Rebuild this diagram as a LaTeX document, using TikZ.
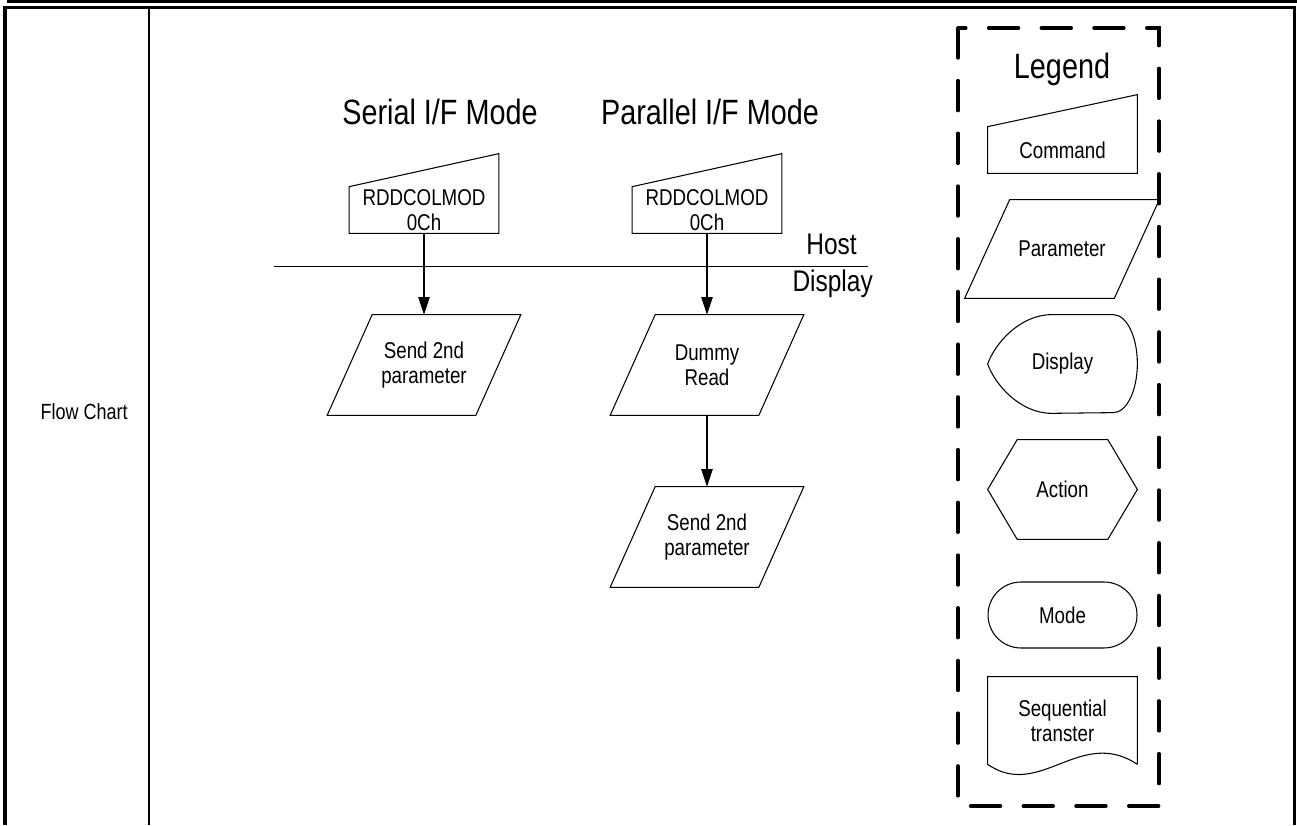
\documentclass[tikz,border=0pt]{standalone}
\usepackage{fontspec}
\setmainfont{Liberation Sans}[FakeStretch=0.82]
\usetikzlibrary{arrows.meta}
\tikzset{
    borderline/.style={line width=1.93pt},
    dividerline/.style={line width=1.3pt},
    shapeline/.style={line width=0.6pt},
    flowarrow/.style={-{Triangle[length=10pt, width=6.5pt]}, line width=0.6pt},
    legendbox/.style={line width=2pt, line cap=round, dash pattern=on 17pt off 13pt},
    heading/.style={font=\fontsize{20}{24}\selectfont},
    sidenote/.style={font=\fontsize{17}{20}\selectfont},
    shapetext/.style={font=\fontsize{13}{14.2}\selectfont, align=center, inner sep=0pt},
    cmdnode/.style={shapetext, minimum width=2.98cm, minimum height=0.92cm},
    paranode/.style={shapetext, minimum width=2.96cm, minimum height=2cm},
    legnode/.style={shapetext, minimum width=2.98cm, minimum height=1.96cm}
}

\begin{document}
\begin{tikzpicture}[x=0.02cm, y=0.02cm]
    \useasboundingbox (0,0) rectangle (1297,825);
    % table frame
    \draw[borderline] (7,823.3) -- (1297,823.3);
    \draw[line width=1.5pt] (3.3,817.2) -- (1296,817.2);
    \draw[borderline] (5,818.5) -- (5,0);
    \draw[borderline] (1294.2,818.5) -- (1294.2,0);
    \draw[dividerline] (149,817) -- (149,0);
    \node[shapetext, font=\fontsize{12.5}{15}\selectfont, anchor=east] (rowname) at (128,413) {Flow Chart};

    % host / display
    \coordinate (splitL) at (274,558.3);
    \coordinate (splitR) at (868,558.3);
    \draw[shapeline] (splitL) -- (splitR);
    \node[sidenote, anchor=base east] (host) at (863,570) {Host};
    \node[sidenote, anchor=base east] (disp) at (879,533.3) {Display};

    % flow
    \node[heading, anchor=base] (serial) at (440,700) {Serial I/F Mode};
    \node[heading, anchor=base] (parallel) at (710,700) {Parallel I/F Mode};
    \node[cmdnode] (cmdS) at (424,615) {RDDCOLMOD\\0Ch};
    \node[cmdnode] (cmdP) at (707,615) {RDDCOLMOD\\0Ch};
    \node[paranode] (sendS) at (424,460) {Send 2nd\\parameter};
    \node[paranode] (dummyP) at (707,460) {Dummy\\Read};
    \node[paranode] (sendP) at (707,288) {Send 2nd\\parameter};

    % legend
    \draw[legendbox] (958,797) rectangle (1159,19);
    \node[heading, anchor=base] (legend) at (1062,746.7) {Legend};
    \node[cmdnode] (cmdLeg) at (1062.5,675) {Command};
    \node[legnode] (paraLeg) at (1062,576) {Parameter};
    \node[legnode] (dispLeg) at (1062.5,461) {Display};
    \node[legnode, minimum height=1.98cm] (actLeg) at (1062.5,335.5) {Action};
    \node[shapetext, draw, shapeline, rounded corners=0.66cm, minimum width=2.98cm,
        minimum height=1.32cm] (modeLeg) at (1062.5,210) {Mode};
    \node[shapetext, minimum width=2.98cm, minimum height=1.74cm] (seqLeg) at (1062.5,104.5) {Sequential\\transter};

    % outlines
    \foreach \n/\r in {cmdS/0.66cm,cmdP/0.66cm,cmdLeg/0.64cm}
        \draw[shapeline] (\n.north west) -- (\n.south west) -- (\n.south east)
            -- ([yshift=\r]\n.north east) -- cycle;
    \foreach \n in {sendS,dummyP,sendP,paraLeg}
        \draw[shapeline] ([xshift=-0.45cm]\n.south west) -- ([xshift=0.45cm]\n.north west)
            -- ([xshift=0.45cm]\n.north east) -- ([xshift=-0.45cm]\n.south east) -- cycle;
    \draw[shapeline] (dispLeg.west) .. controls +(0.14cm,0.4cm) and +(-0.64cm,0cm) .. ([xshift=1.28cm]dispLeg.north west)
        -- ([xshift=-0.48cm]dispLeg.north east) arc[start angle=90, end angle=-90, x radius=0.48cm, y radius=0.98cm]
        -- ([xshift=1.28cm]dispLeg.south west) .. controls +(-0.64cm,0cm) and +(0.14cm,-0.4cm) .. (dispLeg.west);
    \draw[shapeline] (actLeg.west) -- ([xshift=0.59cm]actLeg.north west) -- ([xshift=-0.59cm]actLeg.north east)
        -- (actLeg.east) -- ([xshift=-0.59cm]actLeg.south east) -- ([xshift=0.59cm]actLeg.south west) -- cycle;
    \draw[shapeline] (seqLeg.south east) -- (seqLeg.north east) -- (seqLeg.north west) -- (seqLeg.south west)
        .. controls +(1.04cm,-0.72cm) and +(-1.14cm,0.76cm) .. (seqLeg.south east);

    % connectors
    \draw[flowarrow] (cmdS) -- (sendS);
    \draw[flowarrow] (cmdP) -- (dummyP);
    \draw[flowarrow] (dummyP) -- (sendP);
\end{tikzpicture}
\end{document}
